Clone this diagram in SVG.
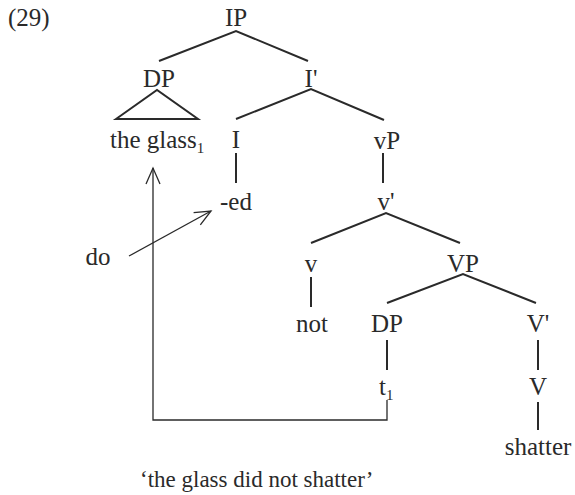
<svg xmlns="http://www.w3.org/2000/svg" width="575" height="495" viewBox="0 0 575 495">
<defs>
<style>
.t{font-family:'Liberation Serif', 'Times New Roman', Times, serif;font-size:25px;fill:#2a2a2a}
.c{text-anchor:middle}
.sub{font-size:15px}
.tree{stroke:#2a2a2a;stroke-width:2;fill:none}
.mv{stroke:#2a2a2a;stroke-width:1.3;fill:none}
</style>
<marker id="ah" viewBox="0 0 20 20" refX="18" refY="10" markerWidth="20" markerHeight="20" markerUnits="userSpaceOnUse" orient="auto">
<path d="M2,3 L18,10 L2,17" fill="none" stroke="#2a2a2a" stroke-width="1.3"/>
</marker>
</defs>
<rect width="575" height="495" fill="#fff"/>
<g class="t" font-family="Liberation Serif, serif">
<text x="8" y="26">(29)</text>
</g>
<g id="connectors">
<path class="tree" d="M159,61 L236,31 L308,61"/>
<path class="tree" d="M116,119 L157,90 L198,119 Z"/>
<path class="tree" d="M236,119 L311,89 L384,120"/>
<path class="tree" d="M236,153 V183"/>
<path class="tree" d="M383,153 V183"/>
<path class="tree" d="M311,243 L386,213 L460,243"/>
<path class="tree" d="M311,277 V307"/>
<path class="tree" d="M387,303 L463,274 L536,303"/>
<path class="tree" d="M387,340 V370"/>
<path class="tree" d="M538,340 V370"/>
<path class="tree" d="M538,402 V430"/>
<path class="mv" d="M387,400 V420 H153 V168" marker-end="url(#ah)"/>
<path class="mv" d="M129,256 L211,211" marker-end="url(#ah)"/>
</g>
<g class="t" font-family="Liberation Serif, serif">
<g id="IP"><text class="c" x="236" y="26">IP</text></g>
<g id="DP1"><text class="c" x="159" y="87">DP</text></g>
<g id="Ibar"><text class="c" x="311" y="87">I'</text></g>
<g id="theglass"><text x="110" y="148">the glass<tspan class="sub" dy="5">1</tspan></text></g>
<g id="I"><text class="c" x="236" y="148">I</text></g>
<g id="vP"><text class="c" x="387" y="149">vP</text></g>
<g id="ed"><text class="c" x="236" y="210">-ed</text></g>
<g id="vbar"><text class="c" x="386" y="210">v'</text></g>
<g id="do"><text class="c" x="98" y="265">do</text></g>
<g id="v"><text class="c" x="311" y="272">v</text></g>
<g id="VP"><text class="c" x="463" y="272">VP</text></g>
<g id="not"><text class="c" x="312" y="332">not</text></g>
<g id="DP2"><text class="c" x="387" y="332">DP</text></g>
<g id="Vbar"><text class="c" x="538" y="332">V'</text></g>
<g id="t1"><text x="379" y="395">t<tspan class="sub" dy="5">1</tspan></text></g>
<g id="V"><text class="c" x="538" y="395">V</text></g>
<g id="shatter"><text class="c" x="538" y="455">shatter</text></g>
<g id="caption"><text x="140" y="487" font-size="23">‘the glass did not shatter’</text></g>
</g>
</svg>
